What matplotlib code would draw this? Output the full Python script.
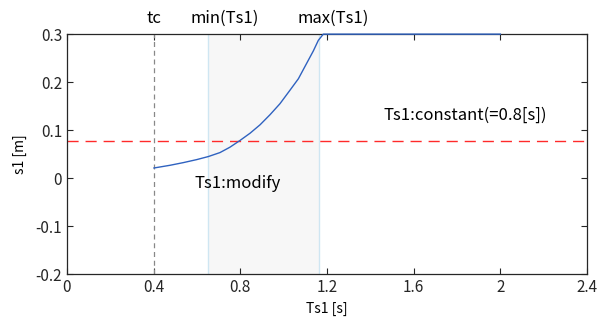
import numpy as np
import matplotlib
matplotlib.use("Agg")
import matplotlib.pyplot as plt

plt.rcParams['font.family'] = ['Noto Sans CJK JP', 'DejaVu Sans']

# s1 vs Ts1
ts1 = [0.4015, 0.475, 0.537, 0.599, 0.652, 0.706, 0.752, 0.798, 0.845, 0.891,
       0.937, 0.983, 1.029, 1.068, 1.106, 1.137, 1.160, 1.183, 2.0]
s1 = [0.021, 0.0266, 0.0322, 0.0385, 0.0448, 0.0531, 0.0643, 0.0782, 0.0935, 0.111,
      0.132, 0.155, 0.183, 0.207, 0.239, 0.265, 0.287, 0.300, 0.300]

tc = 0.4
ts1_min = 0.65
ts1_max = 1.164
s1_const = 0.078

xticks = [0, 0.4, 0.8, 1.2, 1.6, 2.0, 2.4]
xtick_labels = ["0", "0.4", "0.8", "1.2", "1.6", "2", "2.4"]
yticks = [-0.2, -0.1, 0, 0.1, 0.2, 0.3]
ytick_labels = ["-0.2", "-0.1", "0", "0.1", "0.2", "0.3"]

fig = plt.figure(figsize=(5.98, 3.22), dpi=100)
ax = fig.add_axes([0.112, 0.149, 0.8696, 0.745])

ax.axvspan(ts1_min, ts1_max, facecolor="#f7f7f7", edgecolor="none", zorder=0)
ax.axvline(ts1_min, color="#cfe6f2", lw=1.0, zorder=1)
ax.axvline(ts1_max, color="#cfe6f2", lw=1.0, zorder=1)
ax.axvline(tc, color="#888888", lw=0.9, ls=(0, (4, 3)), zorder=2)
ax.axhline(s1_const, color="#ff2a2a", lw=1.0, ls=(0, (8, 5)), zorder=2)
ax.plot(ts1, s1, color="#2f62c0", lw=1.0, zorder=3, clip_on=False)

ax.set_xlim(0, 2.4)
ax.set_ylim(-0.2, 0.3)
ax.set_xticks(xticks)
ax.set_xticklabels(xtick_labels)
ax.set_yticks(yticks)
ax.set_yticklabels(ytick_labels)
ax.tick_params(direction="in", length=4, width=0.8, top=True, right=True,
               labelsize=11, colors="#262626")
for sp in ax.spines.values():
    sp.set_color("#262626")
    sp.set_linewidth(0.9)

ax.set_xlabel("Ts1 [s]", fontsize=10, labelpad=4)
ax.set_ylabel("s1 [m]", fontsize=10, labelpad=6)

ax.text(tc, 0.333, "tc", ha="center", va="center", fontsize=12)
ax.text(0.73, 0.333, "min(Ts1)", ha="center", va="center", fontsize=12)
ax.text(1.23, 0.333, "max(Ts1)", ha="center", va="center", fontsize=12)
ax.text(1.84, 0.131, "Ts1:constant(=0.8[s])", ha="center", va="center", fontsize=12)
ax.text(0.787, -0.011, "Ts1:modify", ha="center", va="center", fontsize=12)

fig.savefig("out.png", dpi=100)
